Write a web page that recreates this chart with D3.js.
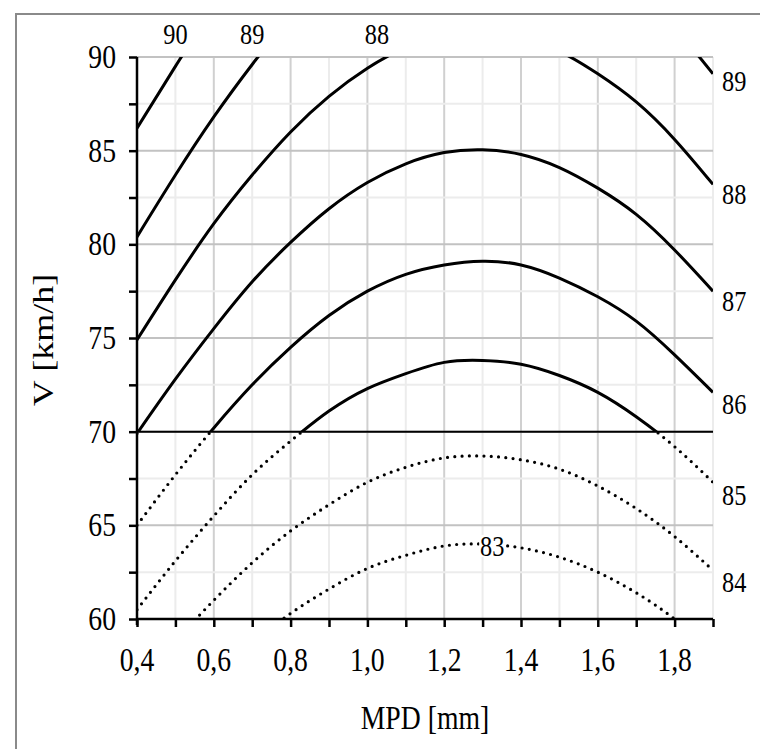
<!DOCTYPE html>
<html><head><meta charset="utf-8">
<script src="https://cdn.jsdelivr.net/npm/d3@7/dist/d3.min.js"></script>
<style>
body{margin:0;background:#fff;}
text{font-family:"Liberation Serif","Times New Roman",serif;fill:#000;}
</style>
</head><body>
<svg id="chart" width="760" height="749"></svg>
<script>
// ---- data ----
const mpd = [0.4,0.5,0.6,0.7,0.8,0.9,1.0,1.1,1.2,1.3,1.4,1.5,1.6,1.7,1.8,1.9];
const level90 = [86.2,89.5,92.8,96.2,98.8,101.0,102.7,104.0,104.7,104.9,104.6,103.8,102.4,100.6,98.3,95.6];
const level89 = [80.4,83.7,86.8,89.6,92.1,94.1,95.8,96.9,97.6,97.8,97.5,96.7,95.5,93.8,91.6,89.1];
const level88 = [74.9,78.1,81.1,83.7,86.0,87.9,89.4,90.5,91.1,91.3,91.0,90.3,89.1,87.6,85.6,83.2];
const level87 = [69.9,72.8,75.5,78.0,80.1,81.9,83.3,84.3,84.9,85.05,84.8,84.1,83.0,81.6,79.7,77.5];
const level86 = [65.0,67.7,70.2,72.5,74.5,76.2,77.5,78.4,78.9,79.1,78.9,78.2,77.2,75.9,74.1,72.1];
const level85 = [60.5,63.1,65.5,67.7,69.5,71.1,72.3,73.1,73.7,73.8,73.6,73.0,72.1,70.8,69.2,67.3];
const level84 = [56.4,58.8,61.0,63.0,64.7,66.1,67.3,68.1,68.6,68.7,68.5,68.0,67.1,65.9,64.4,62.6];
const level83 = [52.5,54.8,56.8,58.7,60.3,61.6,62.7,63.4,63.9,64.0,63.8,63.3,62.5,61.4,60.0,58.3];
const seriesValues = [level90,level89,level88,level87,level86,level85,level84,level83];
const seriesNames = ["90","89","88","87","86","85","84","83"];
const threshold = 70;
const xTicks = [0.4,0.5,0.6,0.7,0.8,0.9,1.0,1.1,1.2,1.3,1.4,1.5,1.6,1.7,1.8,1.9];
const xTickLabels = ["0,4","0,6","0,8","1,0","1,2","1,4","1,6","1,8"];
const xLabelValues = [0.4,0.6,0.8,1.0,1.2,1.4,1.6,1.8];
const yTicks = [60,62.5,65,67.5,70,72.5,75,77.5,80,82.5,85,87.5,90];
const yLabelValues = [60,65,70,75,80,85,90];
const topLabels = [{t:"90",x:0.50},{t:"89",x:0.70},{t:"88",x:1.025}];
const rightLabels = [{t:"89",v:88.7},{t:"88",v:82.7},{t:"87",v:77.0},{t:"86",v:71.5},{t:"85",v:66.6},{t:"84",v:62.0}];
const innerLabel = {t:"83",x:1.325,v:63.9};

// ---- layout ----
const SX = 0.84; // horizontal squeeze of the lettering
const svg = d3.select("#chart");
const x = d3.scaleLinear().domain([0.4,1.9]).range([137,713]);
const y = d3.scaleLinear().domain([60,90]).range([619,57]);

function squeezedText(px, py, str, size, anchor){
  return svg.append("text").attr("x",0).attr("y",0).attr("text-anchor",anchor||"middle")
    .attr("font-size",size).attr("transform",`translate(${px},${py}) scale(${SX},1)`).text(str);
}

// frame
svg.append("rect").attr("x",16).attr("y",14).attr("width",800).attr("height",800)
  .attr("fill","#fff").attr("stroke","#8a8a8a").attr("stroke-width",2);

// grid
const grid = svg.append("g");
const isMajorX = v => Math.round(v*10)%2===0 && v<1.85;
xTicks.forEach(v=>{
  grid.append("line").attr("x1",x(v)).attr("x2",x(v)).attr("y1",y(60)).attr("y2",y(90))
    .attr("stroke", isMajorX(v)?"#d0d0d0":"#ececec").attr("stroke-width",2);
});
yTicks.forEach(v=>{
  grid.append("line").attr("x1",x(0.4)).attr("x2",x(1.9)).attr("y1",y(v)).attr("y2",y(v))
    .attr("stroke", v%5===0?"#c2c2c2":"#ececec").attr("stroke-width",2);
});

// clips
const defs = svg.append("defs");
defs.append("clipPath").attr("id","above").append("rect")
  .attr("x",x(0.4)).attr("y",y(90)).attr("width",x(1.9)-x(0.4)).attr("height",y(threshold)-y(90));
defs.append("clipPath").attr("id","below").append("rect")
  .attr("x",x(0.4)).attr("y",y(threshold)).attr("width",x(1.9)-x(0.4)).attr("height",y(60)-y(threshold));

const line = d3.line().x((d,i)=>x(mpd[i])).y(d=>y(d)).curve(d3.curveNatural);
const curves = svg.append("g");
seriesValues.forEach(vals=>{
  curves.append("path").attr("d",line(vals)).attr("clip-path","url(#above)")
    .attr("fill","none").attr("stroke","#000").attr("stroke-width",3);
  curves.append("path").attr("d",line(vals)).attr("clip-path","url(#below)")
    .attr("fill","none").attr("stroke","#000").attr("stroke-width",3.2)
    .attr("stroke-linecap","round").attr("stroke-dasharray","0 7.3");
});

// threshold line
svg.append("line").attr("x1",x(0.4)).attr("x2",x(1.9)).attr("y1",y(threshold)).attr("y2",y(threshold))
  .attr("stroke","#000").attr("stroke-width",2);

// axes
const xAxis = svg.append("g").attr("transform",`translate(0,${y(60)})`)
  .call(d3.axisBottom(x).tickValues(xTicks).tickSize(8).tickFormat(""));
const yAxis = svg.append("g").attr("transform",`translate(${x(0.4)},0)`)
  .call(d3.axisLeft(y).tickValues(yTicks).tickSize(8).tickFormat(""));
[xAxis,yAxis].forEach(a=>{
  a.select(".domain").attr("stroke","#000").attr("stroke-width",2.5);
  a.selectAll(".tick line").attr("stroke","#000").attr("stroke-width",2.5);
});
xAxis.select(".domain").attr("d",`M${x(0.4)},0H${x(1.9)}`);
yAxis.select(".domain").attr("d",`M0,${y(60)+6}V${y(90)}`);

// tick labels
xLabelValues.forEach((v,i)=> squeezedText(x(v), 671, xTickLabels[i], 33));
yLabelValues.forEach(v=> squeezedText(116, y(v)+11, d3.format("d")(v), 33, "end"));

// axis titles
squeezedText(425, 729, "MPD [mm]", 33);
svg.append("text").attr("text-anchor","middle").attr("font-size",36)
  .attr("transform","translate(53,340) rotate(-90) scale(1,"+SX+")").text("V [km/h]");

// curve labels
topLabels.forEach(d=> squeezedText(x(d.x), 44, d.t, 29));
rightLabels.forEach(d=> squeezedText(722, y(d.v)+10, d.t, 29, "start"));
svg.append("rect").attr("x",x(innerLabel.x)-13).attr("y",y(innerLabel.v)-11).attr("width",26).attr("height",22).attr("fill","#fff");
squeezedText(x(innerLabel.x), y(innerLabel.v)+10, innerLabel.t, 29);
</script>
</body></html>
